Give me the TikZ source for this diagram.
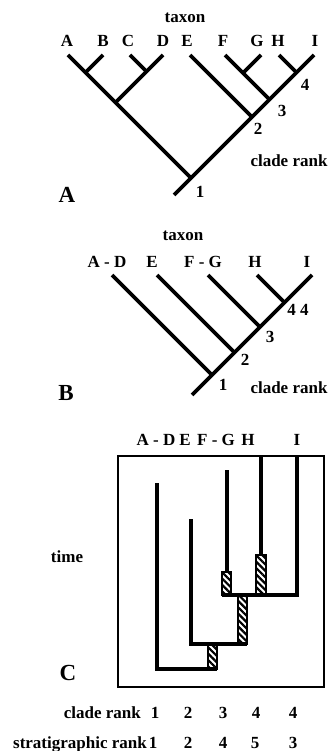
\documentclass[tikz,border=0pt]{standalone}
\usepackage{fontspec}
\setmainfont{Liberation Serif}
\usetikzlibrary{patterns.meta}
\begin{document}
\begin{tikzpicture}[x=1pt,y=-1pt,
  branch/.style={line width=3.8pt},
  cline/.style={line width=3.4pt},
  frame/.style={line width=2.6pt},
  lbl/.style={font=\fontsize{17}{19}\selectfont\bfseries, inner sep=0pt, anchor=base},
  lble/.style={lbl, anchor=base east},
  big/.style={font=\fontsize{23}{26}\selectfont\bfseries, inner sep=0pt, anchor=base},
  hatch/.style={draw, line width=1.5pt, pattern={Lines[angle=-45,distance=4.5pt,line width=2.2pt]}},
]
\useasboundingbox (0,0) rectangle (331,751);

% ---------------- Panel A ----------------
\coordinate (aroot) at (174,195);
\coordinate (an1) at (191,178);
\coordinate (an2) at (252,117);
\coordinate (an3) at (269.5,99.5);
\coordinate (an4) at (296.5,72.5);
\coordinate (atI) at (314,55);
\coordinate (atA) at (68,55);
\coordinate (aab) at (85.5,72.5);
\coordinate (atB) at (103,55);
\coordinate (aabcd) at (115.5,102.5);
\coordinate (acd) at (146.5,71.5);
\coordinate (atC) at (130,55);
\coordinate (atD) at (163,55);
\coordinate (atE) at (190,55);
\coordinate (atF) at (225,55);
\coordinate (afg) at (243,73);
\coordinate (atG) at (261,55);
\coordinate (atH) at (279,55);

\draw[branch] (aroot) -- (an1) -- (an2) -- (an3) -- (an4) -- (atI);
\draw[branch] (an1) -- (aabcd) -- (aab) -- (atA);
\draw[branch] (aab) -- (atB);
\draw[branch] (aabcd) -- (acd) -- (atD);
\draw[branch] (acd) -- (atC);
\draw[branch] (an2) -- (atE);
\draw[branch] (an3) -- (afg) -- (atF);
\draw[branch] (afg) -- (atG);
\draw[branch] (an4) -- (atH);

\node[lbl] (ataxon) at (185,23) {taxon};
\node[lbl] (alA) at (67,47) {A};
\node[lbl] (alB) at (103,47) {B};
\node[lbl] (alC) at (128,47) {C};
\node[lbl] (alD) at (163,47) {D};
\node[lbl] (alE) at (187,47) {E};
\node[lbl] (alF) at (223,47) {F};
\node[lbl] (alG) at (257,47) {G};
\node[lbl] (alH) at (278,47) {H};
\node[lbl] (alI) at (315,47) {I};
\node[lbl] (ar4) at (305,91) {4};
\node[lbl] (ar3) at (282,117) {3};
\node[lbl] (ar2) at (258,135) {2};
\node[lbl] (ar1) at (200,197) {1};
\node[lbl] (acr) at (289,167) {clade rank};
\node[big] (apanel) at (67,203) {A};

% ---------------- Panel B ----------------
\coordinate (broot) at (192,395);
\coordinate (bn1) at (212,375);
\coordinate (bn2) at (234.5,352.5);
\coordinate (bn3) at (260,327);
\coordinate (bn4) at (284.5,302.5);
\coordinate (btI) at (312,275);
\coordinate (btAD) at (112,275);
\coordinate (btE) at (157,275);
\coordinate (btFG) at (208,275);
\coordinate (btH) at (257,275);

\draw[branch] (broot) -- (bn1) -- (bn2) -- (bn3) -- (bn4) -- (btI);
\draw[branch] (bn1) -- (btAD);
\draw[branch] (bn2) -- (btE);
\draw[branch] (bn3) -- (btFG);
\draw[branch] (bn4) -- (btH);

\node[lbl] (btaxon) at (183,240) {taxon};
\node[lbl] (blAD) at (107,267) {A - D};
\node[lbl] (blE) at (152,267) {E};
\node[lbl] (blFG) at (203,267) {F - G};
\node[lbl] (blH) at (255,267) {H};
\node[lbl] (blI) at (307,267) {I};
\node[lbl] (br44) at (298,315) {4 4};
\node[lbl] (br3) at (270,342) {3};
\node[lbl] (br2) at (245,365) {2};
\node[lbl] (br1) at (223,390) {1};
\node[lbl] (bcr) at (289,393) {clade rank};
\node[big] (bpanel) at (66,400) {B};

% ---------------- Panel C ----------------
\draw[frame] (118,456) rectangle (324,687);

\coordinate (cADtop) at (157,483);
\coordinate (cADbot) at (157,669);
\coordinate (cADend) at (217,669);
\coordinate (cEtop) at (191,519);
\coordinate (cEbot) at (191,644);
\coordinate (cEend) at (247,644);
\coordinate (cFGtop) at (227,470);
\coordinate (cFGbot) at (227,572);
\coordinate (cHtop) at (261,456);
\coordinate (cHbot) at (261,555);
\coordinate (cItop) at (297,456);
\coordinate (cIbot) at (297,595);
\coordinate (cIend) at (222,595);

\draw[cline] (cADtop) -- (cADbot) -- (cADend);
\draw[cline] (cEtop) -- (cEbot) -- (cEend);
\draw[cline] (cFGtop) -- (cFGbot);
\draw[cline] (cHtop) -- (cHbot);
\draw[cline] (cItop) -- (cIbot) -- (cIend);

\draw[hatch] (222,572) rectangle (231,595);
\draw[hatch] (256,555) rectangle (266,595);
\draw[hatch] (238,595) rectangle (247,644);
\draw[hatch] (208,644) rectangle (217,669);

\node[lbl] (clAD) at (156,445) {A - D};
\node[lbl] (clE) at (185,445) {E};
\node[lbl] (clFG) at (216,445) {F - G};
\node[lbl] (clH) at (248,445) {H};
\node[lbl] (clI) at (297,445) {I};
\node[lbl] (ctime) at (67,562) {time};
\node[big] (cpanel) at (68,680) {C};

\node[lble] (ccr) at (141,718) {clade rank};
\node[lbl] (ccr1) at (155,718) {1};
\node[lbl] (ccr2) at (188,718) {2};
\node[lbl] (ccr3) at (223,718) {3};
\node[lbl] (ccr4) at (256,718) {4};
\node[lbl] (ccr5) at (293,718) {4};
\node[lble] (csr) at (147,748) {stratigraphic rank};
\node[lbl] (csr1) at (153,748) {1};
\node[lbl] (csr2) at (188,748) {2};
\node[lbl] (csr3) at (223,748) {4};
\node[lbl] (csr4) at (255,748) {5};
\node[lbl] (csr5) at (293,748) {3};
\end{tikzpicture}
\end{document}
